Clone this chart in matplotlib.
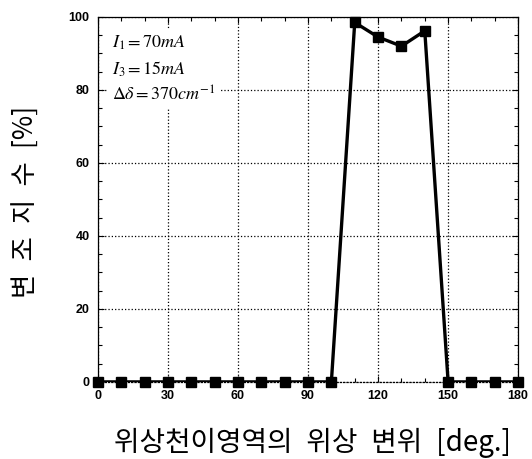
import matplotlib
matplotlib.use("Agg")
import matplotlib.pyplot as plt
from matplotlib.ticker import MultipleLocator

plt.rcParams["mathtext.fontset"] = "stix"

# phase shift of the phase-transition region [deg.]
phase = [0, 10, 20, 30, 40, 50, 60, 70, 80, 90, 100,
         110, 120, 130, 140, 150, 160, 170, 180]
# modulation index [%]
modulation = [0, 0, 0, 0, 0, 0, 0, 0, 0, 0, 0,
              98.5, 94.5, 92.0, 96.2, 0, 0, 0, 0]

notes = [r"$I_{1} = 70mA$", r"$I_{3} = 15mA$", r"$\Delta\delta = 370cm^{-1}$"]
xlabel = "위상천이영역의\u2002위상\u2002변위\u2002[deg.]"
ylabel = "변\u2002조\u2002지\u2002수\u2002[%]"
kfont = ["Noto Sans CJK KR", "DejaVu Sans"]

fig = plt.figure(figsize=(5.32, 4.59), dpi=100)
ax = fig.add_axes([0.184, 0.168, 0.790, 0.795])

# line clipped to the axes (half of it hides under the bottom edge),
# markers drawn on top without clipping
ax.plot(phase, modulation, color="black", linewidth=2.4, zorder=3)
ax.plot(phase, modulation, color="black", linestyle="none", marker="s",
        markersize=6.5, zorder=4, clip_on=False)

ax.set_xlim(0, 180)
ax.set_ylim(0, 100)
ax.xaxis.set_major_locator(MultipleLocator(30))
ax.xaxis.set_minor_locator(MultipleLocator(10))
ax.yaxis.set_major_locator(MultipleLocator(20))
ax.yaxis.set_minor_locator(MultipleLocator(5))
ax.tick_params(which="both", direction="in", top=True, right=True,
               width=0.8, labelsize=9)
ax.tick_params(which="major", length=4, pad=6)
ax.tick_params(which="minor", length=3)
for lab in ax.get_xticklabels() + ax.get_yticklabels():
    lab.set_fontfamily("Liberation Sans")
    lab.set_fontweight("bold")

ax.grid(True, which="major", linestyle=":", color="black", linewidth=0.9)
for side in ["top", "left", "right"]:
    ax.spines[side].set_linewidth(0.9)
ax.spines["bottom"].set_linestyle(":")
ax.spines["bottom"].set_linewidth(0.9)

for i, txt in enumerate(notes):
    ax.text(6.0, 92.9 - 7.2 * i, txt, fontsize=13, va="center", ha="left",
            zorder=5, bbox=dict(facecolor="white", edgecolor="none", pad=3))

fig.text(0.588, 0.035, xlabel, fontsize=20, family=kfont,
         ha="center", va="center")
fig.text(0.049, 1 - 202 / 459, ylabel, fontsize=19, family=kfont,
         rotation=90, ha="center", va="center")

fig.savefig("out.png", dpi=100)
